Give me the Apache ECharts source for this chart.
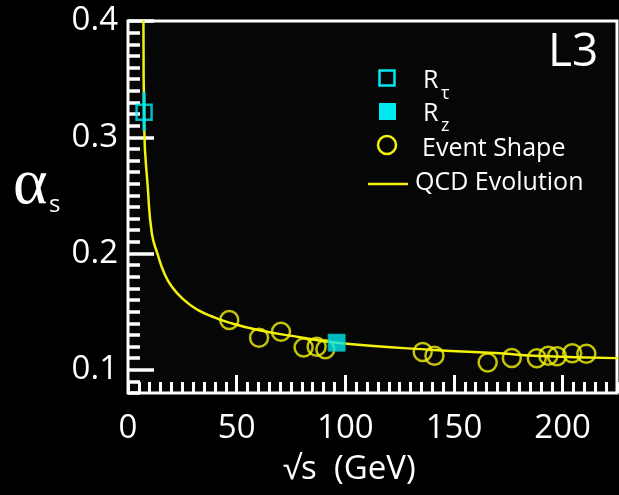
<!DOCTYPE html>
<html>
<head>
<meta charset="utf-8">
<script src="https://cdn.jsdelivr.net/npm/echarts@6/dist/echarts.min.js"></script>
<style>
  html, body { margin: 0; padding: 0; background: #000; }
  #chart { width: 619px; height: 495px; }
</style>
</head>
<body>
<div id="chart"></div>
<script>
// Strong coupling alpha_s versus centre-of-mass energy (L3)
const xMajorTicks = [0, 50, 100, 150, 200];
const yMajorTicks = [0.1, 0.2, 0.3, 0.4];

// R_tau: [sqrt(s), alpha_s, lower, upper]
const rTau = [[7.4, 0.3215, 0.3056, 0.339]];
// R_Z
const rZ = [[96.0, 0.1233]];
// Event shape measurements
const eventShapeX = [46.6, 60.3, 70.4, 80.8, 86.8, 90.8, 135.6, 141.0, 165.5, 176.6, 188.1, 193.4, 197.4, 204.4, 210.9];
const eventShapeY = [0.1428, 0.1276, 0.1327, 0.1191, 0.1198, 0.1176, 0.1153, 0.1121, 0.1062, 0.1101, 0.1099, 0.1120, 0.1117, 0.1142, 0.1138];
// QCD evolution curve
const qcdX = [7.1, 7.5, 9.1, 11.0, 13.7, 16.7, 19.8, 25.2, 32.1, 39.0, 46.6, 60.4, 79, 96, 140.5, 171, 186.5, 225];
const qcdY = [0.40, 0.306, 0.257, 0.217, 0.199, 0.183, 0.1725, 0.161, 0.1515, 0.1456, 0.1405, 0.134, 0.128, 0.1233, 0.117, 0.1142, 0.112, 0.110];

const YELLOW = '#f2f20a';
const CYAN = '#00e8f0';
const FONT = '"Open Sans", "Noto Sans", sans-serif';

const chart = echarts.init(document.getElementById('chart'), null, { renderer: 'canvas' });

const tickStyle = { color: '#fff', width: 3 };

chart.setOption({
  backgroundColor: '#000',
  animation: false,
  grid: {
    left: 128, right: 2, top: 21, bottom: 102,
    show: true, borderColor: '#fff', borderWidth: 3, backgroundColor: '#060606'
  },
  xAxis: [
    {
      type: 'value', min: 0, max: 225, interval: 5,
      axisLine: { show: false, onZero: false },
      axisTick: { show: true, inside: true, length: 11, lineStyle: tickStyle },
      axisLabel: { show: false },
      splitLine: { show: false }
    },
    {
      type: 'value', min: 0, max: 225, position: 'bottom',
      axisLine: { show: false, onZero: false },
      axisTick: { show: true, inside: true, length: 18, customValues: xMajorTicks.slice(1), lineStyle: tickStyle },
      axisLabel: {
        show: true, customValues: xMajorTicks, color: '#fff', fontSize: 33,
        fontFamily: FONT, margin: 19, formatter: v => String(Math.round(v))
      },
      splitLine: { show: false }
    }
  ],
  yAxis: [
    {
      type: 'value', min: 0.08, max: 0.4, interval: 0.01,
      axisLine: { show: false, onZero: false },
      axisTick: { show: true, inside: true, length: 12, lineStyle: { color: '#fff', width: 3.5 } },
      axisLabel: { show: false },
      splitLine: { show: false }
    },
    {
      type: 'value', min: 0.08, max: 0.4, position: 'left',
      axisLine: { show: false, onZero: false },
      axisTick: { show: true, inside: true, length: 26, customValues: yMajorTicks, lineStyle: { color: '#fff', width: 3.5 } },
      axisLabel: {
        show: true, customValues: yMajorTicks, color: '#fff', fontSize: 33,
        fontFamily: FONT, margin: 10, formatter: v => v.toFixed(1)
      },
      splitLine: { show: false }
    }
  ],
  series: [
    {
      name: 'Event Shape', type: 'scatter', z: 2,
      symbol: 'circle', symbolSize: 18,
      itemStyle: { color: 'rgba(0,0,0,0)', borderColor: YELLOW, borderWidth: 2.5 },
      data: eventShapeX.map((x, i) => [x, eventShapeY[i]])
    },
    {
      name: 'QCD Evolution', type: 'line', z: 3,
      showSymbol: false, symbol: 'none', clip: true,
      smooth: 0.5,
      lineStyle: { color: YELLOW, width: 2.5, join: 'round', cap: 'round' },
      data: qcdX.map((x, i) => [x, qcdY[i]])
    },
    {
      name: 'R_tau error', type: 'line', z: 4,
      showSymbol: false, symbol: 'none',
      lineStyle: { color: CYAN, width: 3 },
      data: [[rTau[0][0], rTau[0][2]], [rTau[0][0], rTau[0][3]]]
    },
    {
      name: 'R_tau', type: 'scatter', z: 5,
      symbol: 'rect', symbolSize: 15,
      itemStyle: { color: 'rgba(0,0,0,0)', borderColor: CYAN, borderWidth: 2.5 },
      data: rTau.map(d => [d[0], d[1]])
    },
    {
      name: 'R_Z', type: 'scatter', z: 5,
      symbol: 'rect', symbolSize: 17,
      itemStyle: { color: CYAN, borderColor: '#00b8c0', borderWidth: 1 },
      data: rZ
    }
  ],
  graphic: [
    // axis titles
    { type: 'text', left: 283, top: 453, style: { text: '\u221As  (GeV)', fill: '#fff', font: '33px ' + FONT } },
    { type: 'text', left: 13, top: 153, style: { text: '\u03B1', fill: '#fff', font: '66px "Liberation Serif", "DejaVu Serif", serif' } },
    { type: 'text', left: 49, top: 193, style: { text: 's', fill: '#fff', font: '24px ' + FONT } },
    // experiment tag
    { type: 'text', left: 548, top: 30, style: { text: 'L3', fill: '#fff', font: '46px ' + FONT } },
    // legend
    { type: 'rect', shape: { x: 379.5, y: 70.5, width: 15, height: 15 }, style: { fill: 'none', stroke: CYAN, lineWidth: 2.5 } },
    { type: 'text', left: 423, top: 68, style: { text: 'R', fill: '#fff', font: '25px ' + FONT } },
    { type: 'text', left: 441, top: 85, style: { text: '\u03C4', fill: '#fff', font: '18px ' + FONT } },
    { type: 'rect', shape: { x: 379, y: 103, width: 17, height: 17 }, style: { fill: CYAN } },
    { type: 'text', left: 423, top: 101, style: { text: 'R', fill: '#fff', font: '25px ' + FONT } },
    { type: 'text', left: 441, top: 117, style: { text: 'z', fill: '#fff', font: '18px ' + FONT } },
    { type: 'circle', shape: { cx: 387, cy: 145, r: 9 }, style: { fill: 'none', stroke: YELLOW, lineWidth: 2.5 } },
    { type: 'text', left: 422, top: 136, style: { text: 'Event Shape', fill: '#fff', font: '25px ' + FONT } },
    { type: 'line', shape: { x1: 368, y1: 184, x2: 408, y2: 184 }, style: { stroke: YELLOW, lineWidth: 2.5 } },
    { type: 'text', left: 415, top: 170, style: { text: 'QCD Evolution', fill: '#fff', font: '25px ' + FONT } }
  ]
});
</script>
</body>
</html>
